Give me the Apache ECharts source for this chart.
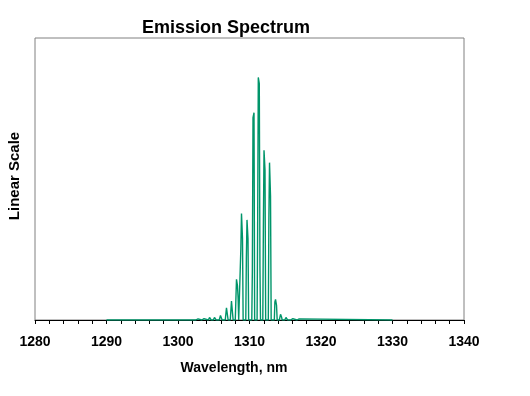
<!DOCTYPE html>
<html>
<head>
<meta charset="utf-8">
<script src="https://cdn.jsdelivr.net/npm/echarts@6/dist/echarts.min.js"></script>
<style>html,body{margin:0;padding:0;background:#fff}#c{width:530px;height:396px}</style>
</head>
<body>
<div id="c"></div>
<script>
// Mode centre wavelengths (nm)
const modeWavelength = [1302.73, 1303.57, 1304.48, 1305.17, 1306.01, 1306.85, 1307.55, 1308.25, 1308.95, 1309.72, 1310.56, 1311.30, 1312.10, 1312.87, 1313.71, 1314.41, 1315.17, 1315.99, 1316.88];
// Heights (linear scale, 0..100 = plot height)
const shoulderLeft = [0, 0, 0, 0, 0, 0, 0, 0, 25.2, 21.7, 17.6, 32.7, 32.7, 36.2, 6.4, 0, 0, 0, 0];
const peakLeft     = [0.4, 0.7, 0.9, 0.9, 1.6, 4.3, 6.7, 14.4, 37.8, 35.5, 71.8, 86.0, 60.2, 55.8, 7.3, 2.0, 0.9, 0.7, 0.5];
const peakRight    = [0.4, 0.5, 0.7, 0.7, 1.2, 4.6, 6.0, 12.1, 28.8, 28.8, 73.5, 83.8, 53.1, 43.9, 5.2, 1.1, 0.7, 0.5, 0.4];
const shoulderRight= [0, 0, 0, 0, 0, 0, 0, 7.6, 0, 0, 0, 18.8, 0, 0, 0, 0, 0, 0, 0];
const spanStart = 1290, spanEnd = 1330;
const xTicks = [1280, 1290, 1300, 1310, 1320, 1330, 1340];

const data = [[spanStart, 0]];
modeWavelength.forEach((w, i) => {
  data.push([w - 0.24, 0]);
  data.push([w - 0.16, shoulderLeft[i]]);
  data.push([w - 0.07, peakLeft[i]]);
  data.push([w + 0.07, peakRight[i]]);
  data.push([w + 0.16, shoulderRight[i]]);
  data.push([w + 0.24, 0]);
});
data.push([spanEnd, 0]);

const chart = echarts.init(document.getElementById('c'), null, {renderer: 'canvas'});
const font = 'Arial, "Liberation Sans", sans-serif';
chart.setOption({
  animation: false,
  grid: {left: 35, right: 66, top: 38, bottom: 76, show: true, borderColor: '#808080', borderWidth: 1, backgroundColor: 'transparent'},
  xAxis: {
    type: 'value', min: xTicks[0], max: xTicks[xTicks.length - 1], interval: 10,
    axisLine: {show: true, onZero: false, lineStyle: {color: '#000', width: 1}},
    axisTick: {show: true, length: 4, inside: false, lineStyle: {color: '#000', width: 1}},
    minorTick: {show: true, splitNumber: 5, length: 4, lineStyle: {color: '#000', width: 1}},
    splitLine: {show: false},
    axisLabel: {margin: 15, color: '#000', fontSize: 14, fontWeight: 'bold', fontFamily: font, formatter: v => String(v)}
  },
  yAxis: {
    type: 'value', min: 0, max: 100,
    axisLine: {show: false}, axisTick: {show: false}, axisLabel: {show: false}, splitLine: {show: false}
  },
  series: [{
    type: 'line', data: data, showSymbol: false, symbol: 'none',
    lineStyle: {color: '#00956A', width: 1.4}, itemStyle: {color: '#00956A'}
  }],
  graphic: [
    {type: 'text', style: {text: 'Emission Spectrum', x: 226, y: 28, textAlign: 'center', textVerticalAlign: 'middle', font: 'bold 18px ' + font, fill: '#000'}},
    {type: 'text', style: {text: 'Wavelength, nm', x: 234, y: 368, textAlign: 'center', textVerticalAlign: 'middle', font: 'bold 14px ' + font, fill: '#000'}},
    {type: 'text', x: 15, y: 176, rotation: Math.PI / 2, style: {text: 'Linear Scale', x: 0, y: 0, textAlign: 'center', textVerticalAlign: 'middle', font: 'bold 15px ' + font, fill: '#000'}}
  ]
});
</script>
</body>
</html>
